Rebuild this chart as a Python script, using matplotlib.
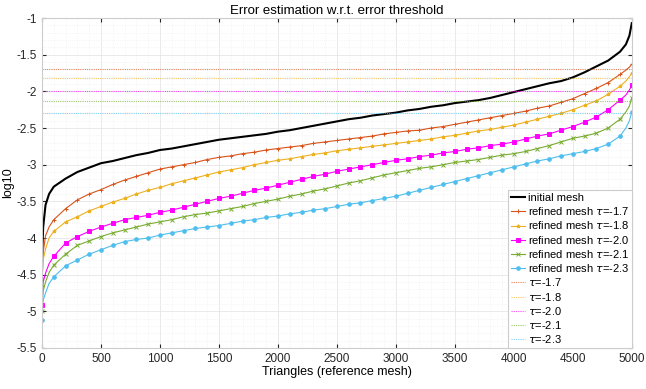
import matplotlib
matplotlib.use('Agg')
import matplotlib.pyplot as plt
from matplotlib.ticker import MultipleLocator, FormatStrFormatter

plt.rcParams['font.family'] = ['Liberation Sans', 'DejaVu Sans']
plt.rcParams['mathtext.fontset'] = 'dejavusans'

# x positions (triangles, sorted by error)
x = [0, 10, 30, 60] + list(range(100, 5000, 100)) + [4950, 4980, 5000]

initial = [-4.30, -3.85, -3.55, -3.40,
           -3.30, -3.19, -3.10, -3.04, -2.98, -2.95, -2.91, -2.87, -2.84, -2.80,
           -2.78, -2.75, -2.72, -2.69, -2.66, -2.64, -2.62, -2.60, -2.58, -2.55,
           -2.53, -2.50, -2.47, -2.44, -2.41, -2.38, -2.36, -2.33, -2.31, -2.29,
           -2.26, -2.24, -2.21, -2.19, -2.16, -2.14, -2.12, -2.09, -2.05, -2.01,
           -1.97, -1.93, -1.89, -1.86, -1.81, -1.74, -1.66, -1.58, -1.46,
           -1.36, -1.24, -1.07]

ref_17 = [-4.66, -4.20, -3.97, -3.85,
          -3.75, -3.60, -3.48, -3.40, -3.34, -3.27, -3.21, -3.16, -3.11, -3.06,
          -3.03, -3.00, -2.97, -2.93, -2.90, -2.88, -2.85, -2.83, -2.80, -2.78,
          -2.76, -2.74, -2.71, -2.69, -2.67, -2.65, -2.63, -2.61, -2.58, -2.56,
          -2.54, -2.53, -2.50, -2.48, -2.45, -2.42, -2.39, -2.36, -2.33, -2.30,
          -2.27, -2.23, -2.20, -2.15, -2.10, -2.03, -1.96, -1.88, -1.77,
          -1.71, -1.67, -1.63]

ref_18 = [-4.55, -4.30, -4.15, -4.00,
          -3.91, -3.78, -3.71, -3.63, -3.57, -3.51, -3.46, -3.40, -3.35, -3.31,
          -3.26, -3.22, -3.18, -3.14, -3.10, -3.07, -3.04, -3.00, -2.97, -2.94,
          -2.92, -2.89, -2.86, -2.84, -2.81, -2.79, -2.77, -2.75, -2.73, -2.71,
          -2.69, -2.67, -2.65, -2.62, -2.60, -2.57, -2.54, -2.52, -2.49, -2.46,
          -2.42, -2.38, -2.34, -2.30, -2.25, -2.19, -2.13, -2.04, -1.93,
          -1.86, -1.80, -1.75]

ref_20 = [-4.91, -4.60, -4.48, -4.35,
          -4.25, -4.07, -3.98, -3.91, -3.85, -3.80, -3.75, -3.72, -3.69, -3.65,
          -3.62, -3.58, -3.54, -3.50, -3.46, -3.43, -3.39, -3.35, -3.32, -3.28,
          -3.24, -3.20, -3.16, -3.13, -3.09, -3.06, -3.03, -3.00, -2.97, -2.94,
          -2.92, -2.89, -2.87, -2.84, -2.82, -2.79, -2.77, -2.74, -2.72, -2.69,
          -2.65, -2.61, -2.58, -2.53, -2.48, -2.42, -2.35, -2.25, -2.12,
          -2.05, -1.98, -1.92]

ref_21 = [-4.99, -4.72, -4.60, -4.47,
          -4.37, -4.22, -4.10, -4.04, -3.98, -3.93, -3.89, -3.85, -3.81, -3.78,
          -3.75, -3.71, -3.68, -3.66, -3.63, -3.60, -3.57, -3.53, -3.50, -3.47,
          -3.43, -3.40, -3.36, -3.33, -3.29, -3.25, -3.22, -3.18, -3.14, -3.11,
          -3.08, -3.05, -3.03, -3.00, -2.97, -2.95, -2.93, -2.90, -2.87, -2.85,
          -2.82, -2.78, -2.74, -2.69, -2.64, -2.61, -2.57, -2.50, -2.38,
          -2.28, -2.20, -2.09]

ref_23 = [-5.12, -4.85, -4.75, -4.62,
          -4.53, -4.38, -4.30, -4.22, -4.16, -4.10, -4.05, -4.02, -4.00, -3.96,
          -3.93, -3.90, -3.87, -3.85, -3.83, -3.80, -3.77, -3.75, -3.72, -3.70,
          -3.67, -3.65, -3.62, -3.60, -3.57, -3.54, -3.52, -3.49, -3.46, -3.43,
          -3.39, -3.35, -3.31, -3.27, -3.23, -3.19, -3.15, -3.11, -3.07, -3.03,
          -2.99, -2.95, -2.92, -2.88, -2.85, -2.82, -2.78, -2.72, -2.61,
          -2.50, -2.40, -2.28]

taus = ['-1.7', '-1.8', '-2.0', '-2.1', '-2.3']
thresholds = [-1.699, -1.824, -2.0, -2.125, -2.301]
colors = ['#D95319', '#EDB120', '#FF00FF', '#77AC30', '#4DBEEE']
markers = ['+', '*', 's', 'x', 'o']
refined = [ref_17, ref_18, ref_20, ref_21, ref_23]

# markers at 0, 100, ..., 4900 and the last point
mark_idx = [0] + list(range(4, 53)) + [len(x) - 1]

fig = plt.figure(figsize=(6.46, 3.89), dpi=100)
ax = fig.add_axes([0.065, 0.1054, 0.913, 0.8483])

ax.plot(x, initial, color='black', lw=1.5, label='initial mesh')
for tau, c, m, ys in zip(taus, colors, markers, refined):
    ax.plot(x, ys, color=c, lw=0.8, marker=m, ms=2.6, mew=0.7,
            markevery=mark_idx, label=r'refined mesh $\tau$=' + tau)
for tau, c, t in zip(taus, colors, thresholds):
    ax.axhline(t, color=c, lw=0.8, ls=(0, (1, 1)), alpha=0.7, label=r'$\tau$=' + tau)

ax.set_xlim(0, 5000)
ax.set_ylim(-5.5, -1)
ax.xaxis.set_major_locator(MultipleLocator(500))
ax.xaxis.set_minor_locator(MultipleLocator(100))
ax.yaxis.set_major_locator(MultipleLocator(0.5))
ax.yaxis.set_minor_locator(MultipleLocator(0.1))
ax.yaxis.set_major_formatter(FormatStrFormatter('%g'))
ax.grid(which='major', color='#e6e6e6', lw=0.6)
ax.grid(which='minor', color='#eeeeee', lw=0.5, ls=':')
ax.set_axisbelow(True)
ax.tick_params(which='both', direction='in', top=True, right=True,
               labelsize=8.5, colors='#262626', length=3)
ax.tick_params(which='minor', length=0)
for s in ax.spines.values():
    s.set_color('#cccccc')
    s.set_linewidth(0.8)

ax.set_title('Error estimation w.r.t. error threshold', fontsize=9.5, pad=3)
ax.set_xlabel('Triangles (reference mesh)', fontsize=9, labelpad=1)
ax.set_ylabel('log10', fontsize=9, labelpad=2)

leg = ax.legend(loc='lower right', fontsize=8, handlelength=1.3,
                handletextpad=0.2, labelspacing=0.2, borderpad=0.25,
                borderaxespad=0.0, fancybox=False, framealpha=1)
leg.get_frame().set_edgecolor('#cccccc')
leg.get_frame().set_linewidth(0.8)

fig.savefig('out.png', dpi=100)
